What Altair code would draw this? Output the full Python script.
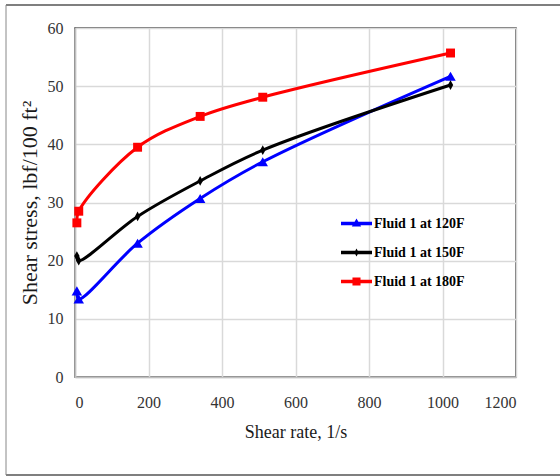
import altair as alt
import pandas as pd

shear_rate = [5.1, 10.2, 170.3, 340.6, 510.9, 1021.8]
fluid_120 = [14.8, 13.4, 23.0, 30.7, 37.0, 51.7]
fluid_150 = [20.8, 20.0, 27.6, 33.7, 39.0, 50.2]
fluid_180 = [26.5, 28.5, 39.5, 44.8, 48.1, 55.7]
series = ["Fluid 1 at 120F", "Fluid 1 at 150F", "Fluid 1 at 180F"]
colors = ["#0000ff", "#000000", "#ff0000"]
x_ticks = [0, 200, 400, 600, 800, 1000, 1200]
y_ticks = [0, 10, 20, 30, 40, 50, 60]

rows = []
for name, vals in zip(series, [fluid_120, fluid_150, fluid_180]):
    for xv, yv in zip(shear_rate, vals):
        rows.append({"series": name, "x": xv, "y": yv})
df = pd.DataFrame(rows)

plot_shapes = ["triangle-up", "M0,-1L0.55,0L0,1L-0.55,0Z", "square"]
plot_sizes = [110, 80, 85]
legend_shapes = [
    "M-1,-0.11H1V0.11H-1Z M0,-0.32L0.3,0.2L-0.3,0.2Z",
    "M-1,-0.11H1V0.11H-1Z M0,-0.26L0.14,0L0,0.26L-0.14,0Z",
    "M-1,-0.11H1V0.11H-1Z M-0.26,-0.26H0.26V0.26H-0.26Z",
]

x_enc = alt.X(
    "x:Q",
    scale=alt.Scale(domain=[0, 1200], nice=False),
    axis=alt.Axis(
        values=x_ticks, format="d", title="Shear rate, 1/s", labelPadding=17, titlePadding=13,
    ),
)
y_enc = alt.Y(
    "y:Q",
    scale=alt.Scale(domain=[0, 60], nice=False),
    axis=alt.Axis(
        values=y_ticks, title="Shear stress, lbf/100 ft\u00b2", labelPadding=12,
        titlePadding=6, titleFontSize=22,
    ),
)

base = alt.Chart(df)

lines = base.mark_line(interpolate="catmull-rom", strokeWidth=3).encode(
    x=x_enc,
    y=y_enc,
    color=alt.Color("series:N", scale=alt.Scale(domain=series, range=colors), legend=None),
)

points = base.mark_point(filled=True, opacity=1, strokeWidth=0).encode(
    x=x_enc,
    y=y_enc,
    color=alt.Color("series:N", scale=alt.Scale(domain=series, range=colors), legend=None),
    shape=alt.Shape("series:N", scale=alt.Scale(domain=series, range=plot_shapes), legend=None),
    size=alt.Size("series:N", scale=alt.Scale(domain=series, range=plot_sizes), legend=None),
)

legend_layer = base.transform_filter("datum.x < 0").mark_point(
    filled=True, opacity=1, strokeWidth=0
).encode(
    x=x_enc,
    y=y_enc,
    color=alt.Color("series:N", scale=alt.Scale(domain=series, range=colors), title=None),
    shape=alt.Shape("series:N", scale=alt.Scale(domain=series, range=legend_shapes), title=None),
)

frame_df = pd.DataFrame({"k": [0]})
frame_top = alt.Chart(frame_df).mark_rule(color="#555555", strokeWidth=1.5).encode(
    x=alt.value(-69), x2=alt.value(485), y=alt.value(-23)
)
frame_bottom = alt.Chart(frame_df).mark_rule(color="#555555", strokeWidth=1.5).encode(
    x=alt.value(-69), x2=alt.value(485), y=alt.value(447)
)
frame_left = alt.Chart(frame_df).mark_rule(color="#888888", strokeWidth=1).encode(
    x=alt.value(-69), y=alt.value(-23), y2=alt.value(447)
)

chart = (
    alt.layer(frame_top, frame_bottom, frame_left, lines, points, legend_layer)
    .resolve_scale(color="independent", shape="independent", size="independent")
    .properties(
        width=441,
        height=349,
        autosize=alt.AutoSizeParams(type="none"),
        padding={"left": 75, "top": 28, "right": 44, "bottom": 99},
        background="white",
    )
    .configure_view(stroke="#404040", strokeWidth=1.5)
    .configure_axis(
        grid=True,
        gridColor="#d9d9d9",
        gridWidth=1.5,
        domainColor="#bfbfbf",
        domainWidth=1.5,
        ticks=False,
        labelFont="Liberation Serif",
        labelFontSize=16,
        labelColor="#333333",
        titleFont="Liberation Serif",
        titleFontSize=18,
        titleFontWeight="normal",
        titleColor="#1a1a1a",
    )
    .configure_legend(
        orient="none",
        legendX=266,
        legendY=180,
        padding=0,
        symbolSize=961,
        symbolStrokeWidth=0,
        rowPadding=6,
        labelOffset=2,
        labelFont="Liberation Serif",
        labelFontWeight="bold",
        labelFontSize=14,
        labelColor="#000000",
    )
)

chart.save("out.html", embed_options={"renderer": "svg", "actions": False})
